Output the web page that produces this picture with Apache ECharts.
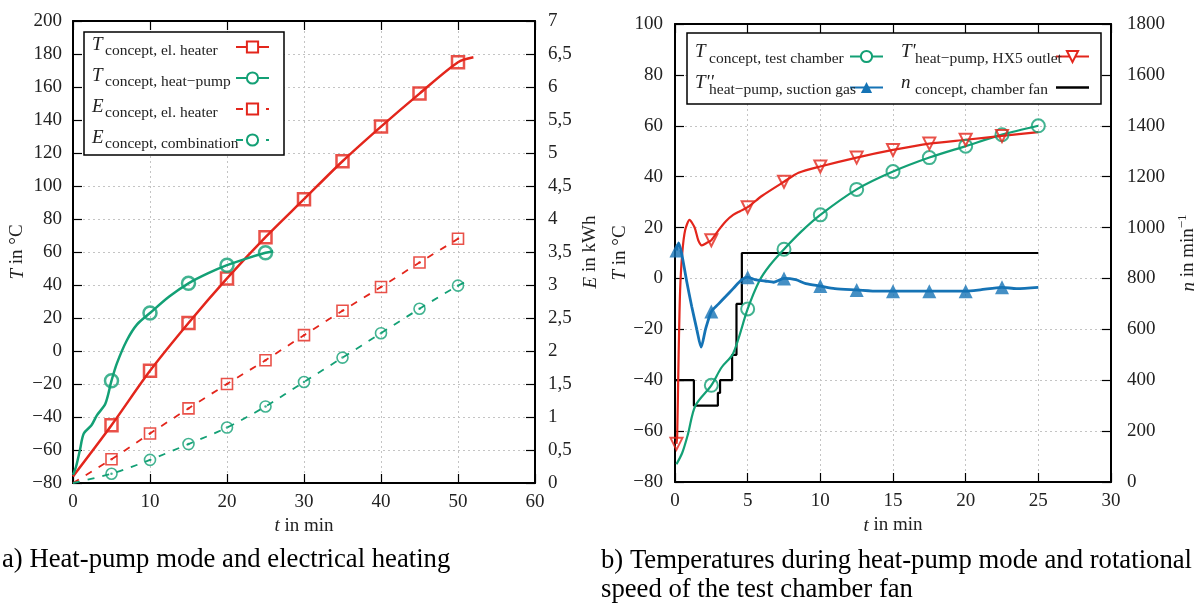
<!DOCTYPE html>
<html>
<head>
<meta charset="utf-8">
<script src="https://cdn.jsdelivr.net/npm/echarts@6.0.0/dist/echarts.min.js"></script>
<style>
  html, body { margin: 0; padding: 0; background: #fff; }
  #chart { width: 1202px; height: 603px; }
</style>
</head>
<body>
<div id="chart"></div>
<script>
// ---- a) heat-pump mode and electrical heating  [t in min, value]
const heaterT = [[0,-76],[5,-45],[10,-12],[15,17],[20,44],[25,69],[30,92],[35,115],[40,136],[45,156],[50,175],[52,178]];
const heatPumpT = [[0,-75],[0.4,-70],[0.9,-60],[1.4,-50],[2.4,-45],[3.1,-39],[4.2,-32],[5,-18],[5.7,-7.5],[7,6.5],
  [8.3,16],[10,23],[12.5,33],[15,41],[17.5,47],[20,52],[22.5,56],[25,59.5],[26,60.5]];
const heaterE = [[0,0],[5,0.36],[10,0.75],[15,1.13],[20,1.5],[25,1.86],[30,2.24],[35,2.61],[40,2.97],[45,3.34],[50,3.7],[50.6,3.75]];
const combE = [[0,0],[5,0.14],[10,0.35],[15,0.59],[20,0.84],[25,1.16],[30,1.53],[35,1.9],[40,2.27],[45,2.64],[50,2.99],[51.6,3.08]];
const markA = [5,10,15,20,25,30,35,40,45,50];

// ---- b) heat-pump mode, chamber fan speed
const chamberT = [[0.1,-73],[0.5,-68.5],[0.9,-61],[1.4,-50],[2.5,-42],[3.2,-35],[4,-29.5],[5,-12],[5.8,-1],[6.5,5],[7.5,11.5],
  [8.7,18.5],[10,25],[12.5,35],[15,42],[17.5,47.5],[20,52],[22.5,56.5],[25,60]];
const outletT = [[0.1,-65],[0.15,-62],[0.25,-30],[0.35,-5],[0.5,10],[0.7,19],[1,23],[1.35,20],[1.6,15],[1.85,13],[2.2,14],
  [2.5,15],[3,19],[3.5,22.5],[4,25],[4.5,26.5],[5,28],[6,32.5],[7.5,38],[8.5,41.5],[10,44],[12.5,47.5],[15,50.5],
  [17.5,53],[20,54.5],[22.5,56],[25,57.5]];
const suctionT = [[0.1,11],[0.25,14],[0.45,10],[0.8,-1],[1.15,-11],[1.5,-20],[1.8,-27],[2.1,-20],[2.5,-13],[3,-10],[3.5,-7],
  [4,-4],[4.6,-0.5],[5,0.5],[5.5,-0.5],[6.2,-1],[6.8,-1.5],[7.5,0],[8.3,-0.5],[9,-2],[10,-3],[11,-4],[12.5,-4.5],
  [14,-5],[15,-5],[16,-5],[17.5,-5],[19,-5],[20,-5],[21,-4.5],[22.5,-3.5],[23.5,-4],[25,-3.5]];
const fanN = [[0,400],[1.3,300],[2.95,350],[3.1,400],[3.93,500],[4.23,700],[4.6,900],[25,900]];
const markChamber = [2.5,5,7.5,10,12.5,15,17.5,20,22.5,25];
const markOther = [0.1,2.5,5,7.5,10,12.5,15,17.5,20,22.5];

const leftNames = ['T_concept, el. heater', 'T_concept, heat−pump', 'E_concept, el. heater', 'E_concept, combination'];
const rightNames = ['T_concept, test chamber', "T'_heat−pump, HX5 outlet", "T''_heat−pump, suction gas", 'n_concept, chamber fan'];

const RED = '#e3261c', GREEN = '#13a075', BLUE = '#1573b5', BLACK = '#000';
const SERIF = 'Liberation Serif';
const DASH = [7, 8];

function curve(name, data, color, xi, yi, width, symbol, extra) {
  return Object.assign({
    name: name, type: 'line', data: data, xAxisIndex: xi, yAxisIndex: yi,
    color: color, symbol: symbol, symbolSize: 12, showSymbol: false, smooth: 0.3,
    lineStyle: { width: width, color: color }, z: 3
  }, extra || {});
}

function marks(data, times, color, xi, yi, symbol, size, border, filled, rotate) {
  return {
    type: 'scatter', xAxisIndex: xi, yAxisIndex: yi,
    data: data.filter(d => times.includes(d[0])),
    symbol: symbol, symbolSize: size, symbolRotate: rotate || 0, silent: true, z: 4,
    itemStyle: filled ? { color: color } : { color: 'rgba(255,255,255,0)', borderColor: color, borderWidth: border }
  };
}

const nameStyle = {
  color: '#222', fontFamily: SERIF, fontSize: 19,
  rich: {
    i: { fontFamily: SERIF, fontSize: 19, fontStyle: 'italic', color: '#222' },
    sup: { fontFamily: SERIF, fontSize: 13, color: '#222', padding: [0, 0, 12, 0], lineHeight: 19 }
  }
};

// minus sign instead of hyphen, no thousands separator
const num = v => String(v).replace('-', '−');

function axisCommon(extra) {
  return Object.assign({
    type: 'value',
    axisLine: { onZero: false, lineStyle: { color: BLACK, width: 2 } },
    axisTick: { inside: true, length: 9, lineStyle: { color: BLACK, width: 1.2 } },
    axisLabel: { color: '#222', fontFamily: SERIF, fontSize: 19 },
    splitLine: { show: false },
    nameTextStyle: nameStyle
  }, extra);
}
const grid = { show: true, lineStyle: { color: '#c4c4c4', type: [2, 3], width: 1 } };
const label = (margin, fmt) => ({ color: '#222', fontFamily: SERIF, fontSize: 19, margin: margin, formatter: fmt || num });

function legendRich(first) {
  return {
    i: { fontFamily: SERIF, fontSize: 19, fontStyle: 'italic', color: '#222', align: 'left', width: first ? 13 : 14,
      padding: [0, 0, first ? 4 : 10, 0], lineHeight: 22 },
    g: { fontSize: 10, width: 15, lineHeight: 22, align: 'left' },
    s: { fontFamily: SERIF, fontSize: 15.5, color: '#222', align: 'left', width: first ? 126 : 136,
      padding: [first ? 8 : 4, 0, 0, 0], lineHeight: 22 }
  };
}

const option = {
  animation: false,
  textStyle: { fontFamily: SERIF },
  grid: [
    { left: 73, top: 21, width: 462, height: 462 },
    { left: 675, top: 24, width: 437, height: 458 }
  ],
  xAxis: [
    axisCommon({ gridIndex: 0, position: 'bottom', min: 0, max: 60, interval: 10, splitLine: grid, axisLabel: label(10),
      name: '{i|t} in min', nameLocation: 'middle', nameGap: 33 }),
    axisCommon({ gridIndex: 0, position: 'top', min: 0, max: 60, interval: 10, axisLabel: { show: false } }),
    axisCommon({ gridIndex: 1, position: 'bottom', min: 0, max: 30, interval: 5, splitLine: grid, axisLabel: label(10),
      name: '{i|t} in min', nameLocation: 'middle', nameGap: 34 }),
    axisCommon({ gridIndex: 1, position: 'top', min: 0, max: 30, interval: 5, axisLabel: { show: false } })
  ],
  yAxis: [
    axisCommon({ gridIndex: 0, position: 'left', min: -80, max: 200, interval: 20, splitLine: grid, axisLabel: label(11),
      name: '{i|T} in °C', nameLocation: 'middle', nameGap: 46 }),
    axisCommon({ gridIndex: 0, position: 'right', min: 0, max: 7, interval: 0.5,
      axisLabel: label(13, v => String(v).replace('.', ',')),
      name: '{i|E} in kWh', nameLocation: 'middle', nameGap: 46 }),
    axisCommon({ gridIndex: 1, position: 'left', min: -80, max: 100, interval: 20, splitLine: grid, axisLabel: label(12),
      name: '{i|T} in °C', nameLocation: 'middle', nameGap: 45 }),
    axisCommon({ gridIndex: 1, position: 'right', min: 0, max: 1800, interval: 200, axisLabel: label(16),
      name: '{i|n} in min{sup|−1}', nameLocation: 'middle', nameGap: 68 })
  ],
  legend: [
    {
      orient: 'vertical', align: 'right', left: 84, top: 32,
      padding: [3, 14, 3, 8], itemWidth: 33, itemHeight: 14, itemGap: 7,
      backgroundColor: '#fff', borderColor: BLACK, borderWidth: 1.5, selectedMode: false,
      data: leftNames,
      formatter: name => { const p = name.split('_'); return '{i|' + p[0] + '}{s|' + p[1] + '}'; },
      textStyle: { color: '#222', fontFamily: SERIF, rich: legendRich(true) }
    },
    {
      orient: 'horizontal', align: 'right', left: 687, top: 33, width: 420,
      padding: [9, 11, 2, 8], itemWidth: 33, itemHeight: 14, itemGap: 2,
      backgroundColor: '#fff', borderColor: BLACK, borderWidth: 1.5, selectedMode: false,
      data: rightNames.map(n => n === rightNames[3] ? { name: n, icon: 'path://M0,0h40v3h-40z' } : n),
      formatter: name => {
        const p = name.split('_');
        const gap = rightNames.indexOf(name) % 2 ? '{g| }' : '';
        return gap + '{i|' + p[0] + '}{s|' + p[1] + '}';
      },
      textStyle: { color: '#222', fontFamily: SERIF, rich: legendRich(false) }
    }
  ],
  graphic: [
    { type: 'text', left: 2, top: 546, style: { text: 'a) Heat-pump mode and electrical heating', font: '26.7px "Liberation Serif"', fill: '#000' } },
    { type: 'text', left: 601, top: 546, style: { text: 'b) Temperatures during heat-pump mode and rotational\nspeed of the test chamber fan', font: '26.7px "Liberation Serif"', fill: '#000', lineHeight: 29 } }
  ],
  series: [
    // left chart
    curve(leftNames[0], heaterT, RED, 0, 0, 2.5, 'emptyRect'),
    marks(heaterT, markA, RED, 0, 0, 'rect', 12, 2.5),
    curve(leftNames[1], heatPumpT, GREEN, 0, 0, 2.5, 'emptyCircle'),
    marks(heatPumpT, markA, GREEN, 0, 0, 'circle', 13, 2.5),
    curve(leftNames[2], heaterE, RED, 0, 1, 1.8, 'emptyRect', { lineStyle: { width: 1.8, color: RED, type: DASH } }),
    marks(heaterE, markA, RED, 0, 1, 'rect', 11, 1.6),
    marks(heaterE, markA, RED, 0, 1, 'circle', 2.5, 0, true),
    curve(leftNames[3], combE, GREEN, 0, 1, 1.8, 'emptyCircle', { lineStyle: { width: 1.8, color: GREEN, type: DASH } }),
    marks(combE, markA, GREEN, 0, 1, 'circle', 11, 1.6),
    marks(combE, markA, GREEN, 0, 1, 'circle', 2.5, 0, true),
    // right chart
    curve(rightNames[3], fanN, BLACK, 2, 3, 2.2, 'none', { step: 'end', smooth: false }),
    curve(rightNames[0], chamberT, GREEN, 2, 2, 2.2, 'emptyCircle'),
    marks(chamberT, markChamber, GREEN, 2, 2, 'circle', 13, 2),
    curve(rightNames[1], outletT, RED, 2, 2, 2.2, 'emptyTriangle', { symbolRotate: 180, smooth: 0.25 }),
    marks(outletT, markOther, RED, 2, 2, 'triangle', 12, 2, false, 180),
    curve(rightNames[2], suctionT, BLUE, 2, 2, 2.8, 'triangle', { smooth: 0.25 }),
    marks(suctionT, markOther, BLUE, 2, 2, 'triangle', 14, 0, true)
  ]
};

const chart = echarts.init(document.getElementById('chart'));
chart.setOption(option);
</script>
</body>
</html>
